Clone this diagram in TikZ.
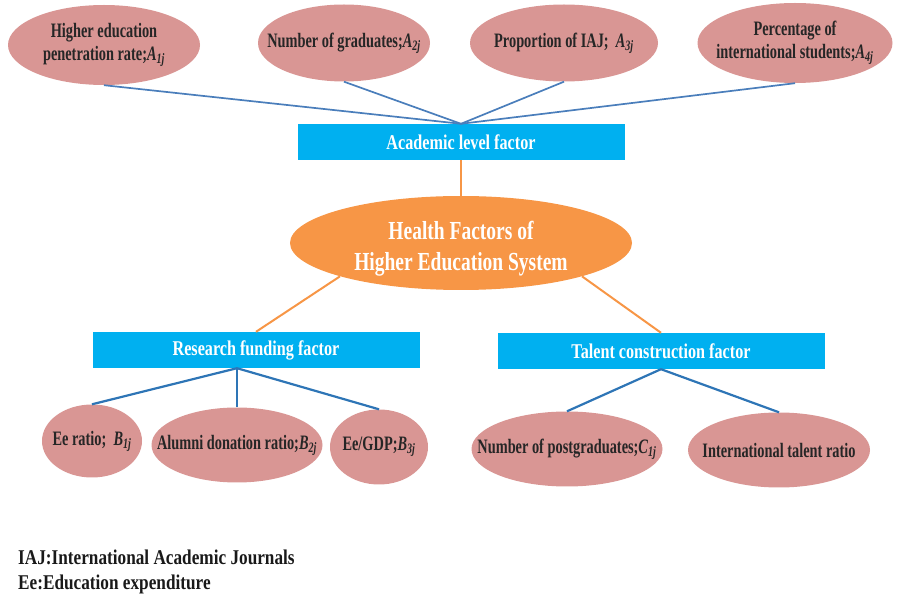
\documentclass[tikz,border=0pt]{standalone}
\usepackage{fontspec}
\setmainfont{Liberation Serif}
\newfontfamily\leaffont{Liberation Serif}[FakeStretch=0.7]
\newfontfamily\boxfont{Liberation Serif}[FakeStretch=0.77]
\newfontfamily\corefont{Liberation Serif}[FakeStretch=0.75]
\newfontfamily\notefont{Liberation Serif}[FakeStretch=0.82]
\usepackage{tikz}
\usetikzlibrary{positioning,calc,shapes.geometric}

\definecolor{leafpink}{HTML}{D99694}
\definecolor{boxcyan}{HTML}{00B0F0}
\definecolor{coreorange}{HTML}{F79646}
\definecolor{linkblue}{HTML}{4A7EBB}
\definecolor{linkdeep}{HTML}{2E75B6}

\newcommand{\idx}[2]{\textit{#1}\textsubscript{\textit{#2}}}

\tikzset{
  indic/.style={ellipse, fill=leafpink, draw=none, inner sep=-60pt, align=center,
    font=\leaffont\bfseries\fontsize{20.5}{23}\selectfont, text=black!85},
  factorbox/.style={rectangle, fill=boxcyan, draw=none, minimum width=327pt, minimum height=36pt,
    inner sep=0pt, font=\boxfont\bfseries\fontsize{21}{24}\selectfont, text=white},
  core/.style={ellipse, fill=coreorange, draw=none, minimum width=342pt, minimum height=94pt,
    inner sep=0pt},
  coretext/.style={align=center, inner sep=0pt, font=\corefont\bfseries\fontsize{26}{31}\selectfont, text=white},
  note/.style={anchor=base west, inner sep=0pt, font=\notefont\bfseries\fontsize{21}{24}\selectfont, text=black!90},
  blink/.style={draw=linkblue, line width=1.7pt},
  dlink/.style={draw=linkdeep, line width=2.2pt},
  olink/.style={draw=coreorange, line width=2pt}
}

\begin{document}
\begin{tikzpicture}[x=1pt,y=-1pt]
\useasboundingbox (0,0) rectangle (903,601);

% top level indicators
\node[indic, minimum width=192pt, minimum height=80pt] (A1) at (104,45) {Higher education\\penetration rate;\idx{A}{1j}};
\node[indic, minimum width=172pt, minimum height=77pt] (A2) at (344,43) {Number of graduates;\idx{A}{2j}};
\node[indic, minimum width=188pt, minimum height=77pt] (A3) at (564,43) {Proportion of IAJ;\ \ \idx{A}{3j}};
\node[indic, minimum width=195pt, minimum height=80pt] (A4) at (795,43) {Percentage of\\international students;\idx{A}{4j}};

% factors
\node[factorbox] (acad) at (461,142) {Academic level factor};
\node[core, label={[coretext, yshift=-6pt]center:Health Factors of\\Higher Education System}] (hes) at (461,243) {};
\node[factorbox] (fund) at (256,350) {Research funding factor};
\node[factorbox] (tal) at (661,351) {Talent construction factor};

% lower indicators
\node[indic, minimum width=100pt, minimum height=73pt] (B1) at (92,441) {Ee ratio;\ \ \idx{B}{1j}};
\node[indic, minimum width=171pt, minimum height=75pt] (B2) at (237,445) {Alumni donation ratio;\idx{B}{2j}};
\node[indic, minimum width=98pt, minimum height=75pt] (B3) at (379,447) {Ee/GDP;\idx{B}{3j}};
\node[indic, minimum width=191pt, minimum height=75pt] (C1) at (567,449) {Number of postgraduates;\idx{C}{1j}};
\node[indic, minimum width=182pt, minimum height=75pt] (C2) at (779,450) {International talent ratio};

% links
\draw[blink] (A1.south) -- (acad.north);
\draw[blink] (A2.south) -- (acad.north);
\draw[blink] (A3.south) -- (acad.north);
\draw[blink] (A4.south) -- (acad.north);
\draw[olink] (acad.south) -- (hes.north);
\draw[olink] (hes.south west) -- (fund.north);
\draw[olink] (hes.south east) -- (tal.north);
\coordinate (fundfoot) at (B2.north |- fund.south);
\draw[dlink] (fundfoot) -- (B1.north);
\draw[dlink] (fundfoot) -- (B2.north);
\draw[dlink] (fundfoot) -- (B3.north);
\draw[dlink] (tal.south) -- (C1.north);
\draw[dlink] (tal.south) -- (C2.north);

% notes
\node[note] (n1) at (18,565) {IAJ:International Academic Journals};
\node[note] (n2) at (18,589) {Ee:Education expenditure};
\end{tikzpicture}
\end{document}
